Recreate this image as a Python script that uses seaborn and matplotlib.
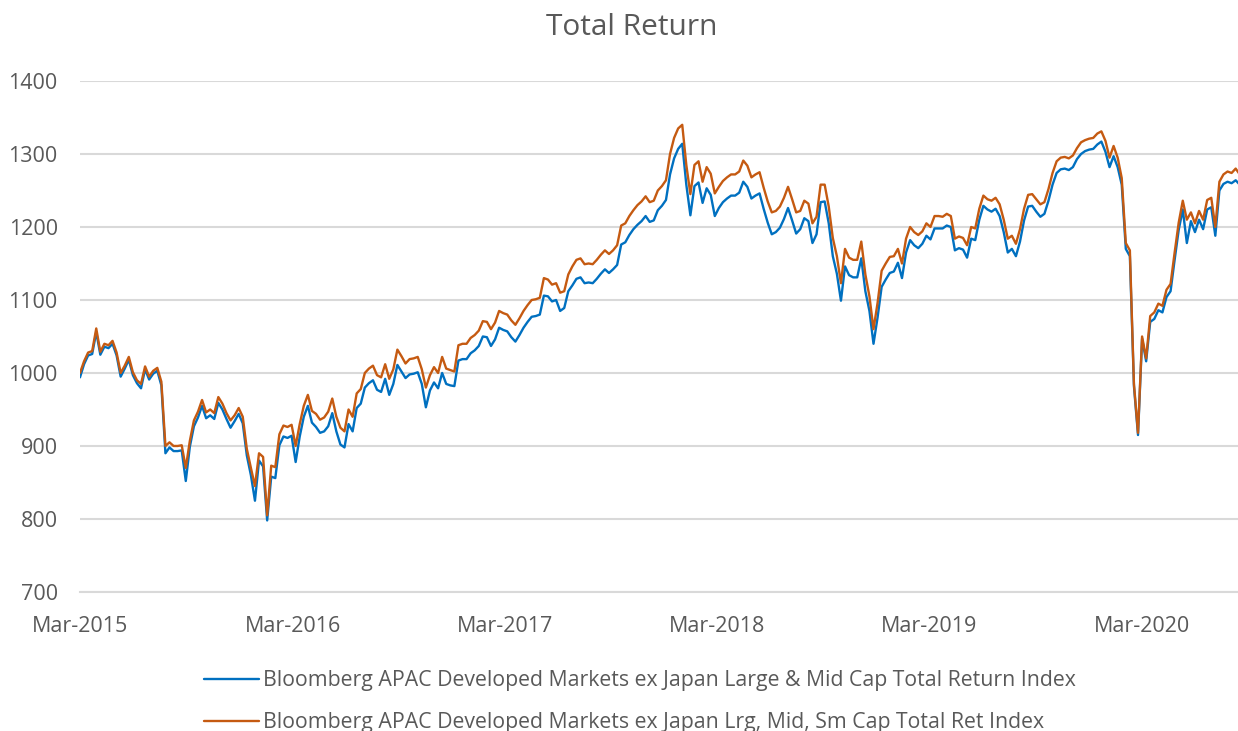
import pandas as pd
import matplotlib.pyplot as plt
import matplotlib.dates as mdates
import seaborn as sns

# weekly readings, first week ends 31 Mar 2015
start_date = "2015-03-31"

lrg_mid_sm = [
    1000, 1016, 1028, 1030, 1061, 1029, 1040, 1038, 1044, 1028, 1000, 1010, 1022,
    1001, 990, 985, 1009, 995, 1003, 1007, 988, 900, 905, 900, 900, 901,
    870, 907, 935, 947, 963, 946, 950, 945, 967, 958, 945, 935, 942,
    952, 940, 896, 870, 845, 890, 885, 805, 873, 871, 916, 928, 926,
    929, 900, 930, 955, 970, 948, 944, 936, 939, 947, 965, 940, 925,
    920, 950, 940, 972, 978, 1000, 1006, 1010, 997, 994, 1012, 992, 1005,
    1032, 1023, 1013, 1019, 1020, 1022, 1005, 980, 997, 1008, 1000, 1022, 1006,
    1004, 1002, 1038, 1040, 1040, 1048, 1052, 1058, 1071, 1070, 1060, 1069, 1085,
    1082, 1080, 1072, 1066, 1075, 1085, 1093, 1100, 1101, 1103, 1130, 1128, 1121,
    1123, 1110, 1112, 1135, 1146, 1155, 1157, 1149, 1150, 1149, 1155, 1162, 1168,
    1163, 1168, 1175, 1202, 1205, 1215, 1223, 1230, 1235, 1242, 1234, 1236, 1250,
    1256, 1264, 1300, 1322, 1335, 1340, 1285, 1245, 1285, 1290, 1262, 1282, 1273,
    1246, 1255, 1263, 1268, 1272, 1272, 1276, 1291, 1284, 1268, 1272, 1275, 1254,
    1235, 1220, 1222, 1228, 1240, 1255, 1238, 1220, 1222, 1236, 1232, 1205, 1214,
    1258, 1258, 1228, 1185, 1160, 1123, 1170, 1158, 1155, 1155, 1180, 1135, 1105,
    1060, 1096, 1140, 1150, 1159, 1160, 1170, 1150, 1184, 1200, 1193, 1189, 1194,
    1205, 1200, 1215, 1215, 1214, 1218, 1215, 1184, 1187, 1185, 1175, 1200, 1198,
    1225, 1243, 1238, 1236, 1240, 1231, 1210, 1184, 1188, 1177, 1197, 1225, 1244,
    1245, 1238, 1231, 1234, 1252, 1274, 1290, 1295, 1296, 1294, 1298, 1308, 1316,
    1319, 1321, 1322, 1328, 1331, 1318, 1295, 1311, 1295, 1267, 1178, 1168, 985,
    918, 1050, 1020, 1078, 1083, 1095, 1092, 1114, 1122, 1165, 1206, 1236, 1210,
    1220, 1205, 1222, 1210, 1237, 1240, 1200, 1262, 1272, 1276, 1274, 1280, 1272,
]

lrg_mid = [
    994, 1012, 1024, 1026, 1056, 1025, 1036, 1034, 1040, 1024, 995, 1006, 1018,
    997, 986, 979, 1005, 991, 999, 1003, 983, 890, 898, 893, 893, 894,
    852, 899, 927, 939, 955, 938, 942, 937, 959, 950, 937, 925, 934,
    944, 931, 887, 860, 825, 880, 872, 798, 858, 856, 901, 913, 911,
    914, 878, 913, 940, 955, 932, 926, 918, 920, 927, 945, 920, 902,
    898, 930, 920, 952, 958, 980, 986, 990, 977, 974, 992, 970, 985,
    1011, 1002, 993, 998, 999, 1001, 985, 953, 976, 987, 979, 1000, 985,
    983, 982, 1017, 1019, 1019, 1027, 1031, 1037, 1050, 1049, 1037, 1046, 1062,
    1059, 1057, 1049, 1043, 1052, 1062, 1070, 1077, 1078, 1080, 1106, 1105, 1098,
    1100, 1085, 1089, 1112, 1120, 1129, 1131, 1123, 1124, 1123, 1129, 1136, 1142,
    1137, 1142, 1148, 1176, 1179, 1189, 1197, 1203, 1208, 1215, 1207, 1209, 1223,
    1229, 1237, 1272, 1294, 1307, 1314, 1258, 1216, 1256, 1261, 1233, 1253, 1244,
    1215, 1226, 1234, 1239, 1243, 1243, 1247, 1262, 1255, 1239, 1243, 1246, 1225,
    1206, 1190, 1193, 1199, 1211, 1226, 1209, 1191, 1197, 1212, 1208, 1178, 1190,
    1234, 1235, 1205, 1160, 1136, 1099, 1146, 1134, 1131, 1131, 1157, 1112, 1085,
    1040, 1076, 1118, 1128, 1137, 1139, 1151, 1130, 1165, 1182, 1175, 1171, 1177,
    1188, 1183, 1198, 1198, 1198, 1202, 1200, 1168, 1171, 1169, 1158, 1184, 1182,
    1210, 1229, 1224, 1221, 1225, 1215, 1193, 1165, 1170, 1160, 1180, 1209, 1228,
    1229, 1221, 1214, 1218, 1236, 1258, 1274, 1279, 1280, 1278, 1282, 1293, 1300,
    1304, 1306, 1307, 1313, 1317, 1303, 1282, 1297, 1282, 1258, 1170, 1160, 982,
    915, 1047, 1016, 1070, 1074, 1086, 1083, 1104, 1112, 1155, 1196, 1224, 1178,
    1208, 1193, 1210, 1197, 1224, 1227, 1188, 1250, 1259, 1262, 1260, 1264, 1258,
]

label_lm = "Bloomberg APAC Developed Markets ex Japan Large & Mid Cap Total Return Index"
label_lms = "Bloomberg APAC Developed Markets ex Japan Lrg, Mid, Sm Cap Total Ret Index"

df = pd.concat([
    pd.DataFrame({"date": pd.date_range(start_date, periods=len(lrg_mid), freq="7D"),
                  "value": lrg_mid, "series": label_lm}),
    pd.DataFrame({"date": pd.date_range(start_date, periods=len(lrg_mid_sm), freq="7D"),
                  "value": lrg_mid_sm, "series": label_lms}),
])

sns.set_style("white")
plt.rcParams["font.family"] = ["Open Sans", "DejaVu Sans"]
grey = "#595959"

fig = plt.figure(figsize=(12.38, 7.31), dpi=100)
ax = fig.add_axes([0.0646, 0.1902, 0.9354, 0.699])

sns.lineplot(data=df, x="date", y="value", hue="series",
             palette=["#0070C0", "#C55A11"], linewidth=1.7, ax=ax)

t0 = pd.Timestamp(start_date)
ax.set_xlim(t0, t0 + pd.Timedelta(days=1992))
ax.set_ylim(700, 1400)
ax.set_yticks(range(700, 1401, 100))
ax.set_xticks([pd.Timestamp(f"{y}-03-31") for y in range(2015, 2021)])
ax.xaxis.set_major_formatter(mdates.DateFormatter("%b-%Y"))

ax.grid(axis="y", color="#d9d9d9", linewidth=1.5)
ax.set_axisbelow(True)
for side in ["left", "right", "top"]:
    ax.spines[side].set_visible(False)
ax.spines["bottom"].set_color("#d9d9d9")
ax.spines["bottom"].set_linewidth(1.5)

ax.tick_params(axis="x", color="#d9d9d9", length=7, width=1.5, direction="out", pad=10)
ax.tick_params(axis="x", labelcolor=grey, labelsize=15.5)
ax.tick_params(axis="y", length=0, labelcolor=grey, labelsize=15.5, pad=16)

ax.set_xlabel("")
ax.set_ylabel("")
fig.text(0.5105, 0.962, "Total Return", fontsize=21.5, color=grey,
         ha="center", va="center")

handles, labels = ax.get_legend_handles_labels()
ax.get_legend().remove()
leg = fig.legend(handles, labels, loc="upper center", bbox_to_anchor=(0.517, 0.098),
                 ncol=1, frameon=False, fontsize=15.3, handlelength=2.6,
                 handletextpad=0.2, labelspacing=1.0, borderpad=0)
for t in leg.get_texts():
    t.set_color(grey)

fig.savefig("out.png", dpi=100)
